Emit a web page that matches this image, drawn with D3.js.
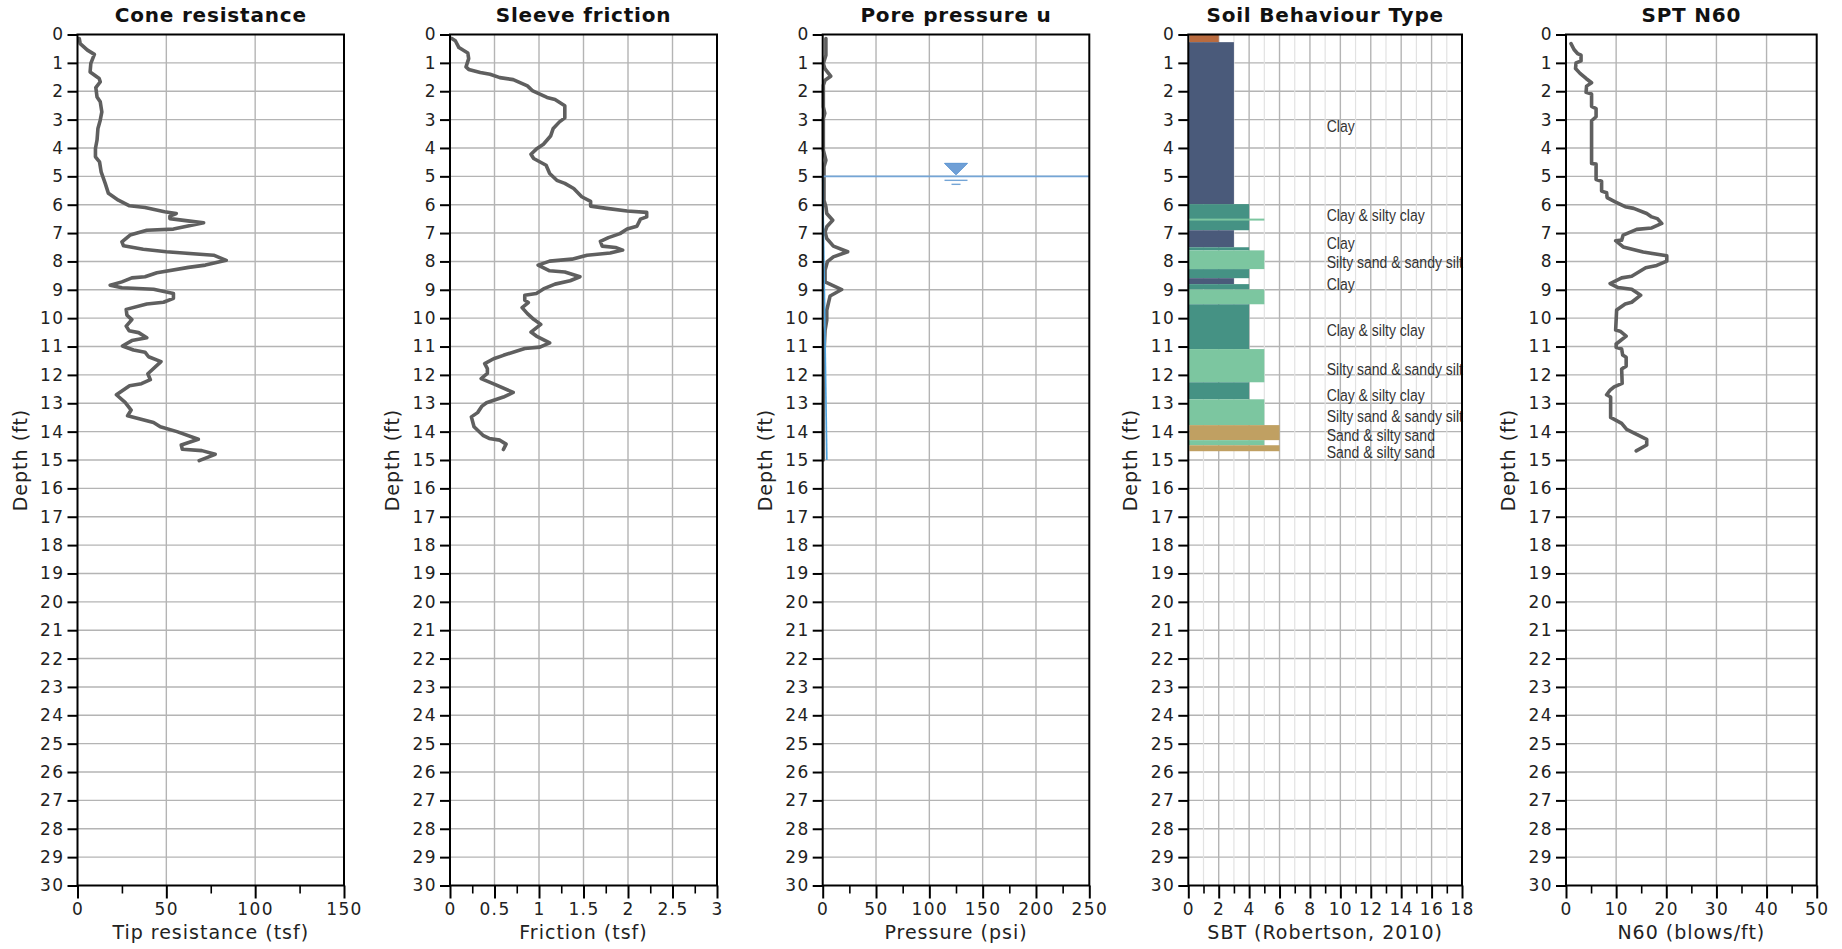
<!DOCTYPE html>
<html>
<head>
<meta charset="utf-8">
<title>CPT log</title>
<script src="https://cdn.jsdelivr.net/npm/d3@7/dist/d3.min.js"></script>
<style>
  html, body { margin: 0; padding: 0; background: #fff; }
  svg { display: block; }
  text { font-family: "DejaVu Sans", sans-serif; fill: #222; }
  .domain { display: none; }
</style>
</head>
<body>
<svg width="1842" height="949"></svg>
<script>
const depthTicks = d3.range(0, 31);

// cone resistance
const coneDepth = [0.14,0.32,0.55,0.7,1.02,1.32,1.55,1.67,1.87,2.2,2.37,2.73,3.02,3.31,3.72,4.02,4.31,4.49,4.84,5.25,5.6,5.84,6.04,6.1,6.25,6.31,6.4,6.49,6.64,6.86,6.9,7.07,7.31,7.45,7.57,7.66,7.78,7.96,8.13,8.21,8.4,8.54,8.58,8.72,8.84,8.93,8.98,9.13,9.3,9.44,9.5,9.69,9.89,10.05,10.28,10.44,10.51,10.69,10.79,10.98,11.12,11.2,11.36,11.53,11.96,12.17,12.31,12.38,12.7,12.97,13.24,13.44,13.68,13.83,14.0,14.27,14.47,14.62,14.67,14.8,15.02];
const coneTsf = [1,1.5,5.6,9.5,7.5,7.1,12.2,12.8,10.3,11,12.8,13.7,12.8,11.5,11,10.1,10.1,12.4,13.3,15.6,17.4,23,29.3,38,49,55.6,52,52,71,54,39,29.6,25,25.9,37,50,76.6,83.7,72,62.5,44.7,38,30.6,25,18.4,25,42.8,54,54,48.4,39,27.4,27.8,30.6,27.4,29,34.4,39,30.6,25.3,31.5,38,40,47,39.6,41,36,29.3,21.9,26.8,30.2,28.2,42.8,46.6,56,68,58.4,59,70,77.5,68.5];

// sleeve friction
const frictionDepth = [0.14,0.22,0.46,0.65,0.85,1.14,1.23,1.34,1.4,1.52,1.59,1.81,1.99,2.22,2.29,2.51,2.94,3.08,3.31,3.58,3.87,4.04,4.22,4.37,4.61,4.9,5.14,5.25,5.43,5.72,5.88,6.05,6.13,6.22,6.27,6.43,6.51,6.76,6.86,7.02,7.16,7.29,7.46,7.51,7.6,7.7,7.78,7.92,7.99,8.13,8.33,8.37,8.54,8.68,8.8,8.97,9.13,9.19,9.37,9.45,9.63,9.84,10.04,10.22,10.49,10.63,10.87,11.02,11.07,11.31,11.43,11.6,11.78,11.95,12.13,12.34,12.62,12.78,12.98,13.1,13.33,13.48,13.83,14.13,14.24,14.3,14.44,14.63];
const frictionTsf = [0.02,0.06,0.1,0.2,0.21,0.18,0.21,0.34,0.45,0.56,0.71,0.87,0.93,1.09,1.18,1.29,1.29,1.23,1.16,1.13,1.05,0.97,0.91,0.94,1.08,1.12,1.2,1.29,1.39,1.48,1.58,1.58,1.76,1.99,2.21,2.21,2.14,2.1,1.99,1.91,1.78,1.69,1.71,1.86,1.94,1.8,1.54,1.37,1.12,0.99,1.12,1.29,1.46,1.35,1.18,1.05,0.97,0.84,0.84,0.88,0.81,0.87,0.94,1.02,0.91,0.97,1.12,1.01,0.84,0.6,0.49,0.39,0.42,0.42,0.35,0.51,0.71,0.6,0.41,0.36,0.31,0.24,0.27,0.37,0.44,0.56,0.63,0.6];

// pore pressure
const poreDepth = [0.14,0.73,1.02,1.2,1.47,1.61,1.79,2.55,2.78,2.96,4.08,4.43,4.66,5.84,6.07,6.31,6.55,6.78,6.96,7.19,7.46,7.66,7.84,8.01,8.31,8.72,8.99,9.22,9.48,9.72,10.07,10.43,11.25,13.6,15];
const porePsi = [3,3,0.6,2,7.5,2.2,0.6,0.6,2,0.6,0.6,3,1.2,1.2,3,3.8,9.4,3.8,2.2,3.8,10,23.4,10,4.4,2.2,2.2,17.8,6.9,5.3,3.8,3.8,2.2,1.2,0.6,0.6];
const hydroDepth = [5, 15];
const hydroPsi = [0, 3.9];
const waterDepth = 5;
const waterMarkPsi = 125;

// soil behaviour type layers
const sbtTop = [0,0.27,5.98,6.9,7.5,7.61,8.27,8.59,8.8,8.99,9.51,11.09,12.26,12.86,13.77,14.3,14.48];
const sbtBottom = [0.27,5.98,6.9,7.5,7.61,8.27,8.59,8.8,8.99,9.51,11.09,12.26,12.86,13.77,14.3,14.48,14.69];
const sbtZone = [2,3,4,3,4,5,4,3,4,5,4,5,4,5,6,5,6];
const sbtFrom = [0.07,0,0,0,0,0,0,0,0,0,0,0,0,0,0.07,0,0.07];
const sbtThinDepth = [6.49];
const sbtThinBottom = [6.56];
const sbtThinZone = [5];
const sbtColors = { 2: "#b96b3f", 3: "#4a5a7a", 4: "#459284", 5: "#7cc6a0", 6: "#c0a062" };
const sbtLabels = ["Clay","Clay & silty clay","Clay","Silty sand & sandy silt","Clay","Clay & silty clay","Silty sand & sandy silt","Clay & silty clay","Silty sand & sandy silt","Sand & silty sand","Sand & silty sand"];
const sbtLabelDepth = [3.25,6.36,7.34,8.04,8.8,10.42,11.79,12.7,13.47,14.14,14.73];

// SPT N60
const nDepth = [0.32,0.53,0.67,0.73,0.93,1,1.2,1.37,1.55,1.7,1.82,2.04,2.1,2.53,2.61,2.9,3.04,4.55,4.57,5.11,5.17,5.52,5.58,5.75,5.9,6.07,6.13,6.31,6.43,6.49,6.66,6.82,6.87,7.07,7.25,7.27,7.49,7.67,7.8,7.99,8.14,8.22,8.52,8.58,8.78,8.92,8.98,9.19,9.44,9.5,9.71,10.42,10.46,10.63,10.91,11.03,11.09,11.3,11.38,11.69,11.79,12.3,12.42,12.54,12.7,12.78,13.5,13.71,13.92,14.1,14.27,14.47,14.68];
const nBlows = [1,1.6,2.3,3,3,2,1.9,2.8,4,5.1,4.1,4,5.1,5.1,6,6,5.1,5.1,6,6,7.1,7.1,8.1,8.2,9.8,11.8,13.5,16.1,17.1,18.2,19.1,17.1,14.1,11.4,11.1,9.9,11.4,15.4,20.1,20.1,18.1,15.9,13.1,11.1,8.8,10.4,13.1,14.9,13.1,11.8,10.1,9.9,10.8,12,10,10,11.1,11.3,12,12,11.1,11.2,9.6,8.8,8.1,8.9,8.9,11.1,12.1,14.1,16.1,16.1,14];

const plotTop = 34.5, plotBottom = 885.5;
const lineColor = "#5f5f5f";
const gridColor = "#b4b4b4";
const svg = d3.select("svg");
const y = d3.scaleLinear().domain([0, 30]).range([plotTop, plotBottom]);

// one log panel: frame, grid, axes, titles. the marks are added by the caller
function panel(left, right, title, xLabel, maxX, majorTicks, minorTicks, fmt) {
    const g = svg.append("g");
    const x = d3.scaleLinear().domain([0, maxX]).range([left, right]);
    const cx = (left + right) / 2;

    g.append("text")
        .attr("x", cx)
        .attr("y", 22)
        .attr("text-anchor", "middle")
        .style("font-size", "20px")
        .style("font-weight", "bold")
        .style("letter-spacing", "0.8px")
        .style("fill", "#111")
        .text(title);

    g.append("g").selectAll("line")
        .data(depthTicks.slice(1, -1))
        .enter().append("line")
        .attr("x1", left).attr("x2", right)
        .attr("y1", d => y(d)).attr("y2", d => y(d))
        .attr("stroke", gridColor)
        .attr("stroke-width", 1.4);

    g.append("g").attr("class", "vgrid").selectAll("line")
        .data(majorTicks.slice(1, -1))
        .enter().append("line")
        .attr("x1", d => x(d)).attr("x2", d => x(d))
        .attr("y1", plotTop).attr("y2", plotBottom)
        .attr("stroke", gridColor)
        .attr("stroke-width", 1.4);

    const marks = g.append("g");

    g.append("rect")
        .attr("x", left).attr("y", plotTop)
        .attr("width", right - left).attr("height", plotBottom - plotTop)
        .attr("fill", "none")
        .attr("stroke", "#000")
        .attr("stroke-width", 2);

    const yAxis = g.append("g")
        .attr("transform", `translate(${left},0)`)
        .call(d3.axisLeft(y).tickValues(depthTicks).tickSize(10).tickPadding(3).tickFormat(d3.format("d")));
    yAxis.selectAll("line").attr("stroke", "#000").attr("stroke-width", 2);
    yAxis.selectAll("text").style("font-size", "17px").style("letter-spacing", "1.4px").style("font-family", "DejaVu Sans").attr("fill", "#222");

    g.append("g")
        .attr("transform", `translate(0,${plotBottom})`)
        .call(d3.axisBottom(x).tickValues(minorTicks).tickSize(8).tickFormat(""))
        .selectAll("line").attr("stroke", "#000").attr("stroke-width", 1.6);

    const xAxis = g.append("g")
        .attr("transform", `translate(0,${plotBottom})`)
        .call(d3.axisBottom(x).tickValues(majorTicks).tickSize(13).tickPadding(4).tickFormat(fmt));
    xAxis.selectAll("line").attr("stroke", "#000").attr("stroke-width", 2);
    xAxis.selectAll("text").style("font-size", "17px").style("letter-spacing", "1.4px").style("font-family", "DejaVu Sans").attr("fill", "#222");

    g.append("text")
        .attr("x", cx)
        .attr("y", 939)
        .attr("text-anchor", "middle")
        .style("font-size", "19px")
        .style("letter-spacing", "1px")
        .text(xLabel);

    g.append("text")
        .attr("x", -y(15))
        .attr("y", left - 51)
        .attr("text-anchor", "middle")
        .attr("transform", "rotate(-90)")
        .style("font-size", "19px")
        .style("letter-spacing", "1px")
        .text("Depth (ft)");

    return { x, marks };
}

function drawLog(p, depths, values) {
    const line = d3.line().x(d => p.x(d[1])).y(d => y(d[0]));
    p.marks.append("path")
        .attr("d", line(d3.zip(depths, values)))
        .attr("fill", "none")
        .attr("stroke", lineColor)
        .attr("stroke-width", 3.6)
        .attr("stroke-linejoin", "round")
        .attr("stroke-linecap", "round");
}

const fmtPlain = d => String(d);

// plot 1
const p1 = panel(77.5, 344, "Cone resistance", "Tip resistance (tsf)", 150, [0,50,100,150], [25,75,125], fmtPlain);
drawLog(p1, coneDepth, coneTsf);

// plot 2
const p2 = panel(450, 717, "Sleeve friction", "Friction (tsf)", 3, [0,0.5,1,1.5,2,2.5,3], [0.25,0.75,1.25,1.75,2.25,2.75], fmtPlain);
drawLog(p2, frictionDepth, frictionTsf);

// plot 3
const p3 = panel(822.7, 1089.3, "Pore pressure u", "Pressure (psi)", 250, [0,50,100,150,200,250], [25,75,125,175,225], fmtPlain);
drawLog(p3, poreDepth, porePsi);
const hydroLine = d3.line().x(d => p3.x(d[1])).y(d => y(d[0]));
p3.marks.append("path")
    .attr("d", hydroLine(d3.zip(hydroDepth, hydroPsi)))
    .attr("fill", "none")
    .attr("stroke", "#4da3e0")
    .attr("stroke-width", 1.6);
p3.marks.append("line")
    .attr("x1", p3.x(0)).attr("x2", p3.x(250))
    .attr("y1", y(waterDepth)).attr("y2", y(waterDepth))
    .attr("stroke", "#74a5d6")
    .attr("stroke-width", 1.6);
// water table symbol, sized in pixels around the mark position
const wx = p3.x(waterMarkPsi), wy = y(waterDepth);
p3.marks.append("path")
    .attr("d", `M${wx - 11.5},${wy - 13}L${wx + 11.5},${wy - 13}L${wx},${wy - 1.5}Z`)
    .attr("fill", "#6f9fd6")
    .attr("stroke", "#5b95d2")
    .attr("stroke-width", 1);
[[4, 11.5], [8, 4.5]].forEach(d => {
    p3.marks.append("line")
        .attr("x1", wx - d[1]).attr("x2", wx + d[1])
        .attr("y1", wy + d[0]).attr("y2", wy + d[0])
        .attr("stroke", "#74a5d6")
        .attr("stroke-width", 1.4);
});

// plot 4
const p4 = panel(1188.3, 1462, "Soil Behaviour Type", "SBT (Robertson, 2010)", 18, d3.range(0, 19, 2), d3.range(1, 19, 2), fmtPlain);
p4.marks.selectAll("line.minor")
    .data(d3.range(1, 19, 2))
    .enter().append("line")
    .attr("class", "minor")
    .attr("x1", d => p4.x(d)).attr("x2", d => p4.x(d))
    .attr("y1", plotTop).attr("y2", plotBottom)
    .attr("stroke", "#e2e2e2")
    .attr("stroke-width", 1.2);
p4.marks.selectAll("rect.layer")
    .data(d3.zip(sbtTop, sbtBottom, sbtZone, sbtFrom))
    .enter().append("rect")
    .attr("class", "layer")
    .attr("x", d => p4.x(d[3]))
    .attr("y", d => y(d[0]))
    .attr("width", d => p4.x(d[2]) - p4.x(d[3]))
    .attr("height", d => y(d[1]) - y(d[0]))
    .attr("fill", d => sbtColors[d[2]]);
p4.marks.selectAll("rect.thin")
    .data(d3.zip(sbtThinDepth, sbtThinBottom, sbtThinZone))
    .enter().append("rect")
    .attr("class", "thin")
    .attr("x", p4.x(0))
    .attr("y", d => y(d[0]))
    .attr("width", d => p4.x(d[2]) - p4.x(0))
    .attr("height", d => y(d[1]) - y(d[0]))
    .attr("fill", d => sbtColors[d[2]]);
p4.marks.selectAll("text.soil")
    .data(d3.zip(sbtLabels, sbtLabelDepth))
    .enter().append("text")
    .attr("class", "soil")
    .attr("transform", d => `translate(${p4.x(9.1)},${y(d[1])}) scale(0.85,1)`)
    .attr("dy", "0.35em")
    .style("font-family", "'Liberation Sans', sans-serif")
    .style("font-size", "16.5px")
    .style("fill", "#333")
    .text(d => d[0]);

// plot 5
const p5 = panel(1566, 1816.7, "SPT N60", "N60 (blows/ft)", 50, [0,10,20,30,40,50], [5,15,25,35,45], fmtPlain);
drawLog(p5, nDepth, nBlows);
</script>
</body>
</html>
